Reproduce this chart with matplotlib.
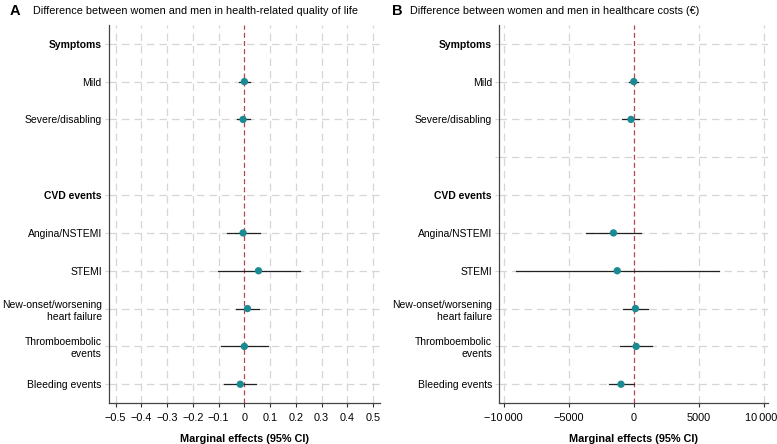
import matplotlib
matplotlib.use("Agg")
import matplotlib.pyplot as plt
import matplotlib.transforms as mtransforms

plt.rcParams['font.family'] = ['Liberation Sans', 'DejaVu Sans']

# row labels, top to bottom ('' = blank spacer row)
rows = ['Symptoms', 'Mild', 'Severe/disabling', '', 'CVD events',
        'Angina/NSTEMI', 'STEMI', 'New-onset/worsening\nheart failure',
        'Thromboembolic\nevents', 'Bleeding events']
headers = ['Symptoms', 'CVD events']
items = ['Mild', 'Severe/disabling', 'Angina/NSTEMI', 'STEMI',
         'New-onset/worsening\nheart failure', 'Thromboembolic\nevents',
         'Bleeding events']

# panel A: health-related quality of life
qol_est = [0.0, -0.005, -0.005, 0.055, 0.012, 0.0, -0.016]
qol_lo = [-0.022, -0.03, -0.068, -0.103, -0.034, -0.09, -0.078]
qol_hi = [0.022, 0.022, 0.06, 0.215, 0.058, 0.091, 0.044]

# panel B: healthcare costs
cost_est = [0, -210, -1560, -1270, 130, 180, -980]
cost_lo = [-400, -870, -3640, -9050, -790, -1030, -1900]
cost_hi = [340, 400, 550, 6540, 1060, 1400, 0]

qol_ticks = [-0.5, -0.4, -0.3, -0.2, -0.1, 0, 0.1, 0.2, 0.3, 0.4, 0.5]
qol_ticklabels = ['\u22120.5', '\u22120.4', '\u22120.3', '\u22120.2', '\u22120.1', '0',
                  '0.1', '0.2', '0.3', '0.4', '0.5']
cost_ticks = [-10000, -5000, 0, 5000, 10000]
cost_ticklabels = ['\u221210\u2009000', '\u22125000', '0', '5000', '10\u2009000']

teal = '#1b8a93'
red = '#b8434c'
grid_col = '#d6d6d6'
fs = 7.8
fs_y = 7.5

fig = plt.figure(figsize=(7.77, 4.44), dpi=100)
axA = fig.add_axes([0.140, 0.092, 0.349, 0.852])
axB = fig.add_axes([0.642, 0.092, 0.346, 0.852])


def draw(ax, est, lo, hi, ticks, ticklabels, xlim, show_blank):
    ypos = [rows.index(r) for r in items]
    for t in ticks:
        if t != 0:
            ax.axvline(t, color=grid_col, lw=0.9, dashes=(6, 4), zorder=0)
    grid_rows = [i for i, r in enumerate(rows) if r != '' or show_blank]
    for i in grid_rows:
        ax.axhline(i, color=grid_col, lw=0.9, dashes=(6, 4), zorder=0)
    ax.axvline(0, color=red, lw=0.9, dashes=(4, 2.5), zorder=1)
    for y, e, l, h in zip(ypos, est, lo, hi):
        ax.plot([l, h], [y, y], color='#222222', lw=0.9, zorder=2)
    ax.scatter(est, ypos, s=28, color=teal, zorder=3, edgecolors='none')

    ax.set_xlim(*xlim)
    ax.set_ylim(9.5, -0.5)
    ax.set_yticks(grid_rows)
    ax.set_yticklabels([rows[i] for i in grid_rows], fontsize=fs_y,
                       multialignment='right', linespacing=1.25)
    for lab in ax.get_yticklabels():
        if lab.get_text() in headers:
            lab.set_fontweight('bold')
    ax.set_xticks(ticks)
    ax.set_xticklabels(ticklabels, fontsize=fs)
    ax.tick_params(axis='y', length=3, color=grid_col, pad=2)
    ax.tick_params(axis='x', length=3, color='#333333', pad=4)
    for s in ['top', 'right']:
        ax.spines[s].set_visible(False)
    ax.spines['left'].set_color('#444444')
    ax.spines['bottom'].set_color('#444444')
    ax.spines['left'].set_linewidth(0.9)
    ax.spines['bottom'].set_linewidth(0.9)
    ax.set_xlabel('Marginal effects (95% CI)', fontsize=fs, fontweight='bold', labelpad=8)


draw(axA, qol_est, qol_lo, qol_hi, qol_ticks, qol_ticklabels, (-0.527, 0.527), False)
draw(axB, cost_est, cost_lo, cost_hi, cost_ticks, cost_ticklabels, (-10360, 10280), True)

# nudge the last cost tick label so it stays inside the figure
last = axB.get_xticklabels()[-1]
last.set_transform(last.get_transform() + mtransforms.ScaledTranslation(-3 / 100, 0, fig.dpi_scale_trans))

fig.text(10 / 777, 1 - 11 / 444, 'A', fontsize=10.5, fontweight='bold', va='center')
fig.text(33 / 777, 1 - 11 / 444, 'Difference between women and men in health-related quality of life',
         fontsize=fs, va='center')
fig.text(392 / 777, 1 - 11 / 444, 'B', fontsize=10.5, fontweight='bold', va='center')
fig.text(410 / 777, 1 - 11 / 444, 'Difference between women and men in healthcare costs (\u20ac)',
         fontsize=fs, va='center')

fig.savefig('out.png', dpi=100)
